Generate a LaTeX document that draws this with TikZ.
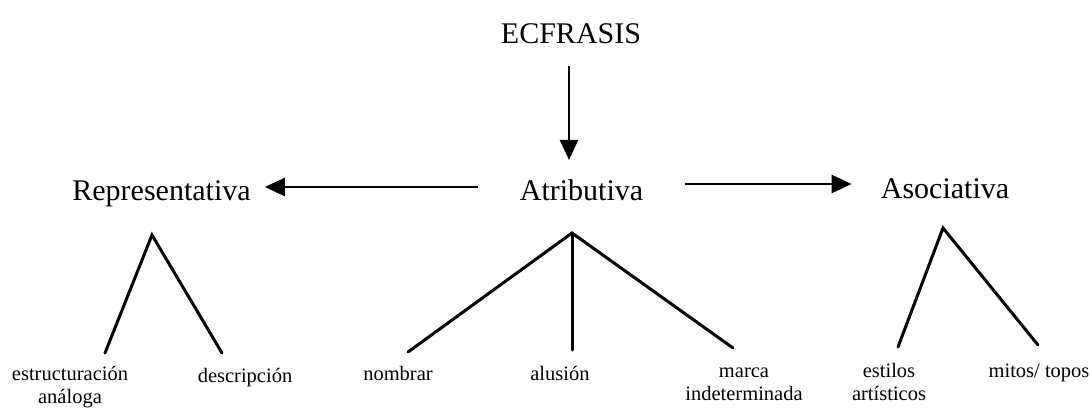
\documentclass[tikz,border=0pt]{standalone}
\usepackage{fontspec}
\setmainfont{Liberation Serif}
\usetikzlibrary{arrows.meta}
\begin{document}
\begin{tikzpicture}[x=1pt,y=-1pt,
  big/.style={font=\fontsize{30}{32}\selectfont, inner sep=0pt, anchor=base},
  small/.style={font=\fontsize{20.5}{22.5}\selectfont, inner sep=0pt, anchor=base, align=center},
  arr/.style={line width=2.2pt, -{Triangle[length=20pt,width=18pt]}},
  leg/.style={line width=3pt, line cap=round}]
\useasboundingbox (0,0) rectangle (1092,407);
% main nodes
\node[big] (ecf) at (571,43) {ECFRASIS};
\node[big] (rep) at (161.5,200) {Representativa};
\node[big] (atr) at (581.5,200) {Atributiva};
\node[big] (aso) at (945,198) {Asociativa};
% labels (anchor base = baseline of last line)
\node[small] (est) at (70,403) {estructuración\\análoga};
\node[small] (des) at (245,382) {descripción};
\node[small] (nom) at (398,380) {nombrar};
\node[small] (alu) at (560,380) {alusión};
\node[small] (mar) at (744,400) {marca\\indeterminada};
\node[small] (sti) at (889,400) {estilos\\artísticos};
\node[small] (mit) at (1039,377) {mitos/ topos};
% helper coordinates
\coordinate (colE) at (569,0);
\coordinate (rowL) at (0,187);
\coordinate (rowR) at (0,184);
\coordinate (repA) at (152,235);
\coordinate (atrA) at (572,233);
\coordinate (asoA) at (943,228);
\coordinate (estE) at (105,353);
\coordinate (desE) at (222,353);
\coordinate (nomE) at (408,352);
\coordinate (aluE) at (572,350);
\coordinate (marE) at (733,348);
\coordinate (stiE) at (898,347);
\coordinate (mitE) at (1038,345);
% arrows
\draw[arr, shorten <=23pt, shorten >=19pt] (ecf.south -| colE) -- (atr.north -| colE);
\draw[arr, shorten <=42pt, shorten >=14pt] (atr.west |- rowL) -- (rep.east |- rowL);
\draw[arr, shorten <=42pt, shorten >=29pt] (atr.east |- rowR) -- (aso.west |- rowR);
% legs
\draw[leg] (estE) -- (repA) -- (desE);
\draw[leg] (nomE) -- (atrA) -- (marE);
\draw[leg] (atrA) -- (aluE);
\draw[leg] (stiE) -- (asoA) -- (mitE);
\end{tikzpicture}
\end{document}
